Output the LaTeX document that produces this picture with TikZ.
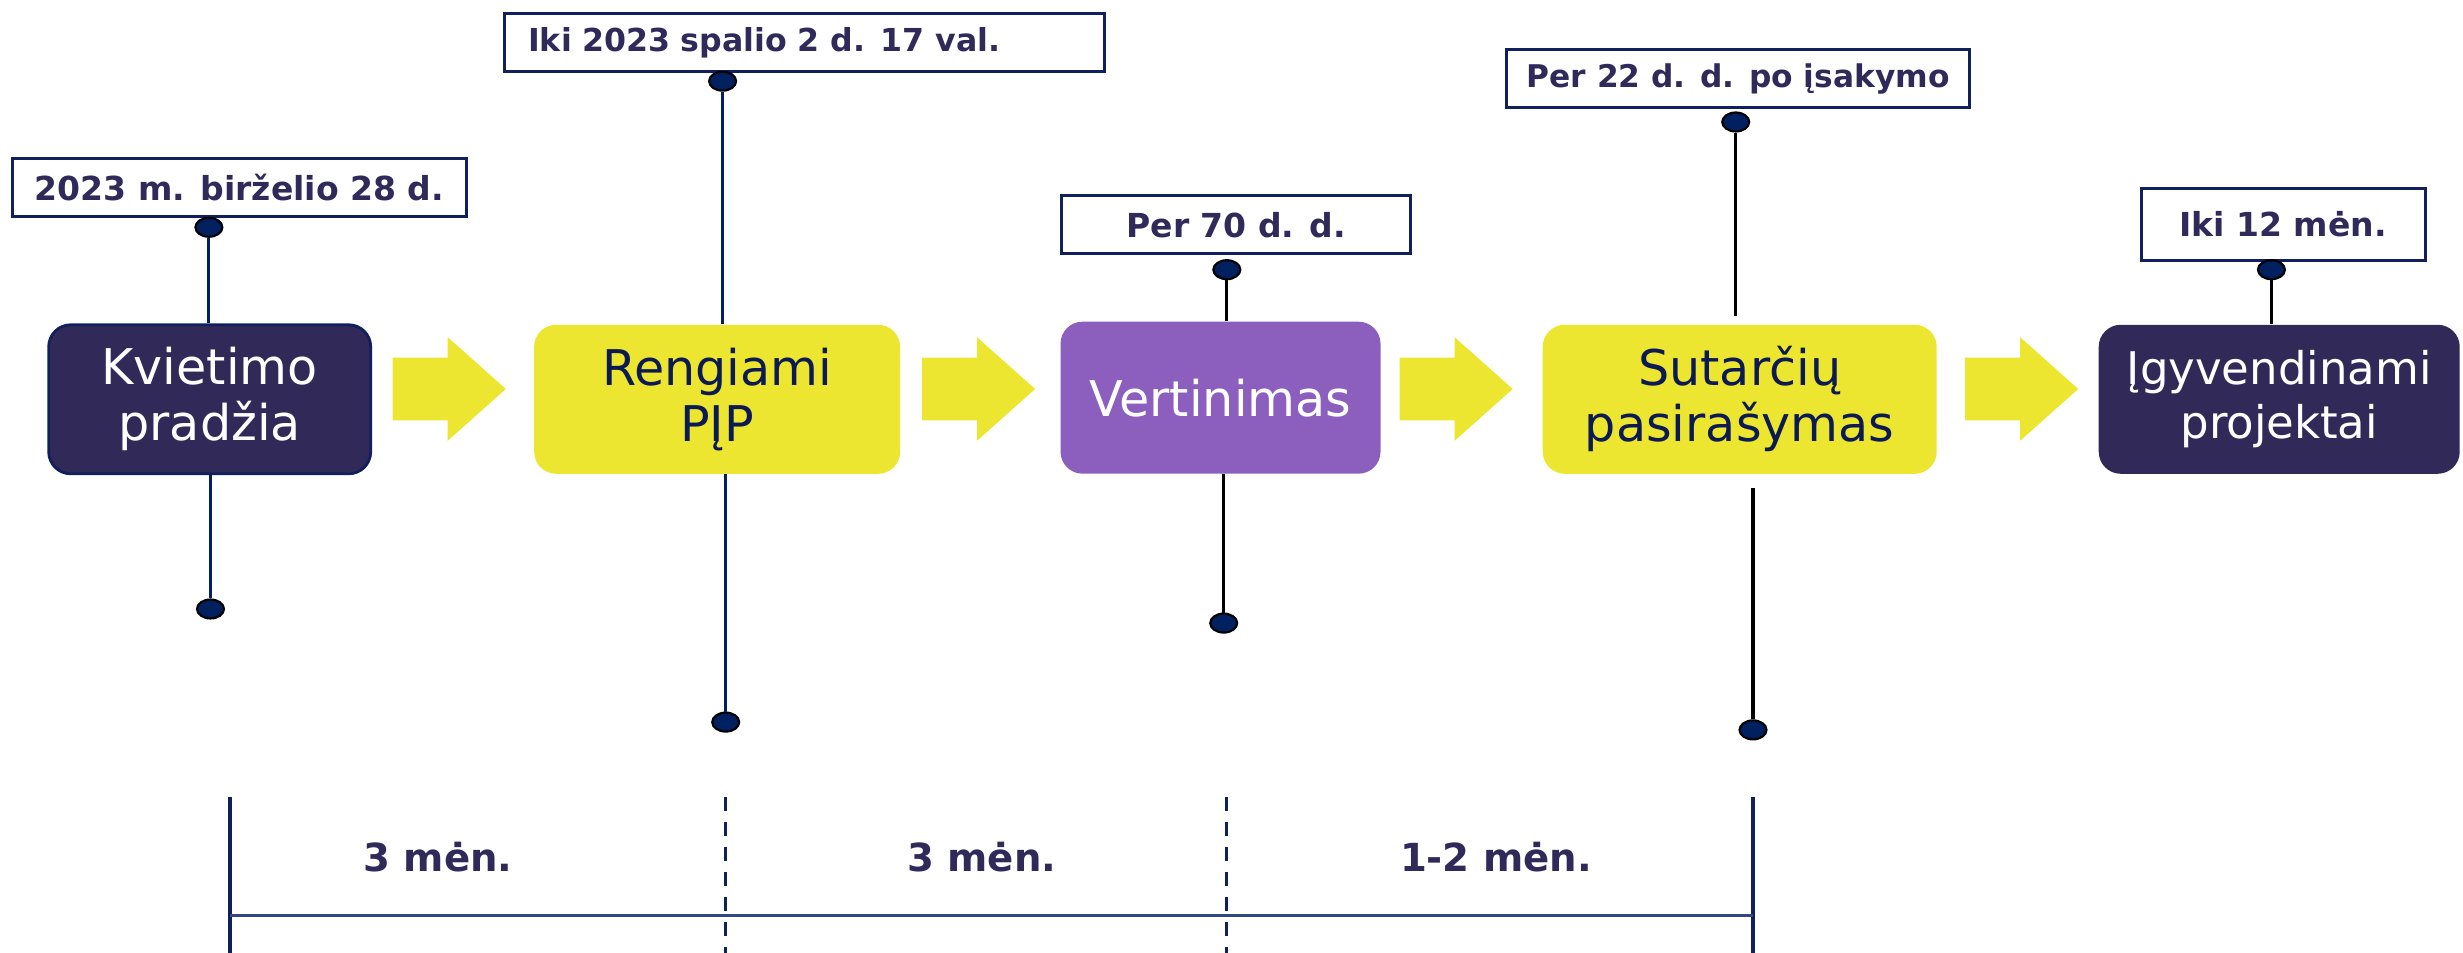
\documentclass[tikz,border=0pt]{standalone}
\usepackage{fontspec}
\setmainfont{DejaVu Sans}
\usetikzlibrary{shapes.geometric}

\definecolor{kvnavy}{RGB}{49,42,88}
\definecolor{kvborder}{RGB}{16,32,92}
\definecolor{kvyellow}{RGB}{237,230,48}
\definecolor{kvpurple}{RGB}{140,95,190}
\definecolor{kvtext}{RGB}{12,26,84}
\definecolor{kvdate}{RGB}{48,42,90}
\definecolor{kvdot}{RGB}{0,32,96}
\definecolor{kvline}{RGB}{52,72,128}

\begin{document}
\begin{tikzpicture}[x=1cm,y=1cm,
    stage/.style={rounded corners=0.22cm, minimum height=1.49cm, inner sep=0pt, align=center, font=\fontsize{14}{16}\selectfont},
    datebox/.style={draw=kvborder, line width=0.9pt, fill=white, minimum height=0.58cm, inner sep=0pt, text=kvdate, font=\bfseries\fontsize{9.4}{11}\selectfont},
    pin/.style={ellipse, draw=black, fill=kvdot, line width=0.6pt, minimum width=0.27cm, minimum height=0.19cm, inner sep=0pt},
    stem/.style={line width=0.9pt},
    span/.style={text=kvdate, font=\bfseries\fontsize{11}{13}\selectfont}]
    \useasboundingbox (0,0) rectangle (24.63,9.53);

    % stages
    \node[stage, fill=kvnavy, draw=kvborder, line width=0.8pt, text=white, minimum width=3.22cm] (kviet) at (2.097,5.537) {Kvietimo\\pradžia};
    \node[stage, fill=kvyellow, text=kvtext, minimum width=3.66cm] (reng) at (7.171,5.537) {Rengiami\\PĮP};
    \node[stage, fill=kvpurple, text=white, minimum width=3.20cm, minimum height=1.52cm] (vert) at (12.205,5.553) {Vertinimas};
    \node[stage, fill=kvyellow, text=kvtext, minimum width=3.94cm] (sut) at (17.397,5.537) {Sutarčių\\pasirašymas};
    \node[stage, fill=kvnavy, text=white, minimum width=3.61cm, font=\fontsize{12.8}{15.5}\selectfont] (igyv) at (22.792,5.537) {Įgyvendinami\\projektai};

    % block arrows between stages
    \foreach \x in {3.927, 9.220, 13.996, 19.651}
        \fill[kvyellow] (\x,5.326) -- ++(0.55,0) -- ++(0,-0.204) -- ++(0.581,0.518) -- ++(-0.581,0.518) -- ++(0,-0.204) -- ++(-0.55,0) -- cycle;

    % dates
    \node[datebox, minimum width=4.54cm] (d1) at (2.395,7.658) {2023 m. birželio 28 d.};
    \node[datebox, minimum width=6.0cm, text width=5.52cm, align=left, font=\bfseries\fontsize{9.0}{11}\selectfont] (d2) at (8.042,9.103) {Iki 2023 spalio 2 d. 17 val.};
    \node[datebox, minimum width=3.49cm] (d3) at (12.362,7.281) {Per 70 d. d.};
    \node[datebox, minimum width=4.63cm, font=\bfseries\fontsize{8.9}{11}\selectfont] (d4) at (17.381,8.742) {Per 22 d. d. po įsakymo};
    \node[datebox, minimum width=2.84cm, minimum height=0.72cm] (d5) at (22.831,7.289) {Iki 12 mėn.};

    % pins
    \node[pin] (t1) at (2.089,7.257) {};
    \node[pin] (t2) at (7.226,8.718) {};
    \node[pin] (t3) at (12.268,6.833) {};
    \node[pin] (t4) at (17.357,8.310) {};
    \node[pin] (t5) at (22.714,6.833) {};
    \node[pin] (b1) at (2.105,3.440) {};
    \node[pin] (b2) at (7.257,2.309) {};
    \node[pin] (b3) at (12.237,3.299) {};
    \node[pin] (b4) at (17.530,2.231) {};

    \draw[stem, kvdot] (t1.south) -- (t1 |- kviet.north);
    \draw[stem, kvdot] (t2.south) -- (t2 |- reng.north);
    \draw[stem] (t3.south) -- (t3 |- vert.north);
    \draw[stem] (t4.south) -- ([yshift=0.08cm]t4 |- sut.north);
    \draw[stem] (t5.south) -- (t5 |- igyv.north);
    \draw[stem, kvdot] (b1 |- kviet.south) -- (b1.north);
    \draw[stem, kvdot] (b2 |- reng.south) -- (b2.north);
    \draw[stem] (b3 |- vert.south) -- (b3.north);
    \draw[stem] ([yshift=-0.14cm]b4 |- sut.south) -- (b4.north);

    % durations
    \coordinate (m0) at (2.30,1.555);
    \coordinate (m1) at (7.257,1.555);
    \coordinate (m2) at (12.268,1.555);
    \coordinate (m3) at (17.53,1.555);
    \draw[kvborder, line width=1pt] (m0) -- ++(0,-1.6);
    \draw[kvborder, line width=1pt] (m3) -- ++(0,-1.6);
    \draw[kvborder, line width=0.8pt, dash pattern=on 0.14cm off 0.11cm] (m1) -- ++(0,-1.6);
    \draw[kvborder, line width=0.8pt, dash pattern=on 0.14cm off 0.11cm] (m2) -- ++(0,-1.6);
    \draw[kvline, line width=0.8pt] ([yshift=-1.178cm]m0) -- ([yshift=-1.178cm]m3);

    \node[span] (s1) at (4.38,0.96) {3 mėn.};
    \node[span] (s2) at (9.818,0.96) {3 mėn.};
    \node[span] (s3) at (14.96,0.96) {1-2 mėn.};
\end{tikzpicture}
\end{document}
